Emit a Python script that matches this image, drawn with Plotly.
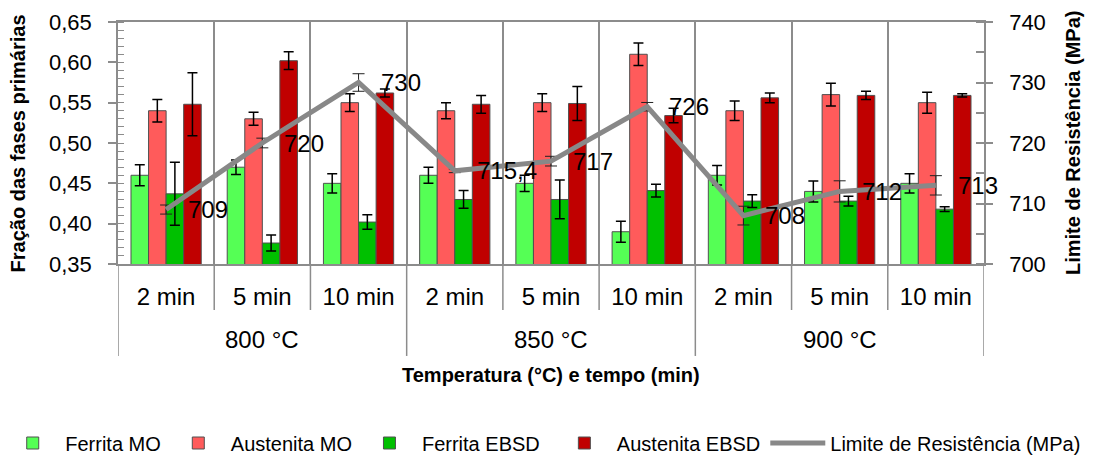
import plotly.graph_objects as go

# ---------------- data ----------------
temperaturas = ["800 °C", "850 °C", "900 °C"]
tempos = ["2 min", "5 min", "10 min"]

ferrita_mo = [0.460, 0.470, 0.450, 0.460, 0.450, 0.390, 0.460, 0.440, 0.450]
ferrita_mo_err = [0.013, 0.009, 0.012, 0.010, 0.010, 0.013, 0.012, 0.013, 0.012]
austenita_mo = [0.540, 0.530, 0.550, 0.540, 0.550, 0.610, 0.540, 0.560, 0.550]
austenita_mo_err = [0.014, 0.008, 0.011, 0.010, 0.011, 0.014, 0.012, 0.014, 0.013]
ferrita_ebsd = [0.437, 0.376, 0.402, 0.430, 0.430, 0.441, 0.428, 0.428, 0.418]
ferrita_ebsd_err = [0.039, 0.010, 0.009, 0.011, 0.024, 0.008, 0.008, 0.006, 0.003]
austenita_ebsd = [0.548, 0.602, 0.562, 0.548, 0.549, 0.534, 0.556, 0.559, 0.559]
austenita_ebsd_err = [0.039, 0.011, 0.005, 0.011, 0.021, 0.009, 0.006, 0.005, 0.002]
limite_resistencia = [709, 720, 730, 715.4, 717, 726, 708, 712, 713]
limite_resistencia_err = [0.75, 0.8, 1.45, 0.3, 0.8, 0.7, 1.55, 1.75, 1.6]

# ---------------- styling ----------------
FONT = "Liberation Sans, Arial, sans-serif"
GRID = "#8c8c8c"
n = len(temperaturas) * len(tempos)
pos = list(range(n))
ticktext = [t for _ in temperaturas for t in tempos]

fig = go.Figure()

series = [
    ("Ferrita MO", ferrita_mo, ferrita_mo_err, "#55FF55", "legend"),
    ("Austenita MO", austenita_mo, austenita_mo_err, "#FF5B5B", "legend"),
    ("Ferrita EBSD", ferrita_ebsd, ferrita_ebsd_err, "#00C000", "legend"),
    ("Austenita EBSD", austenita_ebsd, austenita_ebsd_err, "#C00000", "legend2"),
]
for name, vals, errs, col, lg in series:
    fig.add_trace(go.Bar(
        x=pos, y=vals, name=name, legend=lg,
        marker=dict(color=col, line=dict(color="#505050", width=1)),
        error_y=dict(type="data", array=errs, visible=True,
                     color="black", thickness=1.5, width=5),
    ))

fig.add_trace(go.Scatter(
    x=pos, y=limite_resistencia, name="Limite de Resistência (MPa)",
    yaxis="y2", mode="lines", legend="legend2",
    line=dict(color="#888888", width=5),
    error_y=dict(type="data", array=limite_resistencia_err, visible=True,
                 color="#222222", thickness=1, width=6),
))

annotations = []
for xi, v in zip(pos, limite_resistencia):
    annotations.append(dict(
        x=xi, y=v, xref="x", yref="y2", text=f"{v:g}".replace(".", ","),
        showarrow=False, xanchor="left", yanchor="middle", xshift=20,
        font=dict(family=FONT, size=24, color="black"),
    ))

# temperature labels and separators
k = len(tempos)
for gi, temp in enumerate(temperaturas):
    center = sum(pos[gi * k:(gi + 1) * k]) / k
    annotations.append(dict(
        x=center, y=-0.314, xref="x", yref="paper", text=temp,
        showarrow=False, xanchor="center", yanchor="middle",
        font=dict(family=FONT, size=24, color="black"),
    ))

shapes = []
for b in range(n + 1):
    xb = b - 0.5
    long_sep = (b % k == 0)
    shapes.append(dict(
        type="line", xref="x", yref="paper", x0=xb, x1=xb,
        y0=0, y1=-0.38 if long_sep else -0.19,
        line=dict(color=GRID, width=1.5),
    ))

annotations.append(dict(
    x=0.5, y=-0.459, xref="paper", yref="paper",
    text="<b>Temperatura (°C) e tempo (min)</b>", showarrow=False,
    xanchor="center", yanchor="middle",
    font=dict(family=FONT, size=20, color="black"),
))
annotations.append(dict(
    x=-0.115, y=0.5, xref="paper", yref="paper", textangle=-90,
    text="<b>Fração das fases primárias</b>", showarrow=False,
    xanchor="center", yanchor="middle",
    font=dict(family=FONT, size=20, color="black"),
))
annotations.append(dict(
    x=1.1028, y=0.5, xref="paper", yref="paper", textangle=-90,
    text="<b>Limite de Resistência (MPa)</b>", showarrow=False,
    xanchor="center", yanchor="middle",
    font=dict(family=FONT, size=20, color="black"),
))

legend_common = dict(orientation="h", yref="container", y=14 / 457,
                     yanchor="middle", font=dict(family=FONT, size=20),
                     itemwidth=55, traceorder="normal", bgcolor="rgba(0,0,0,0)")

fig.update_layout(
    width=1102, height=457,
    margin=dict(l=118, r=118, t=22, b=193, autoexpand=False),
    paper_bgcolor="white", plot_bgcolor="white",
    separators=",.",
    barmode="group", bargap=0.27, bargroupgap=0,
    font=dict(family=FONT, color="black"),
    showlegend=True,
    legend=dict(legend_common, xref="paper", x=-0.136, xanchor="left"),
    legend2=dict(legend_common, xref="paper", x=0.501, xanchor="left"),
    xaxis=dict(
        range=[-0.5, n - 0.5], tickmode="array", tickvals=pos, ticktext=ticktext,
        ticks="", showgrid=False, zeroline=False,
        showline=True, linecolor=GRID, linewidth=1.5, mirror=True,
        tickfont=dict(family=FONT, size=24), ticklabelstandoff=10,
        minor=dict(tickmode="array", tickvals=[p + 0.5 for p in pos[:-1]],
                   showgrid=True, gridcolor=GRID, gridwidth=1.5, ticks=""),
    ),
    yaxis=dict(
        range=[0.35, 0.65], tickmode="linear", tick0=0.35, dtick=0.05,
        tickformat=".2f", ticks="outside", ticklen=8, tickwidth=1.5, tickcolor=GRID,
        showline=True, linecolor=GRID, linewidth=1.5, showgrid=False, zeroline=False,
        tickfont=dict(family=FONT, size=22), ticklabelstandoff=12,
        minor=dict(dtick=0.01, ticks="inside", ticklen=6, tickwidth=1, tickcolor=GRID),
    ),
    yaxis2=dict(
        overlaying="y", side="right",
        range=[700, 740], tickmode="linear", tick0=700, dtick=10,
        ticks="outside", ticklen=7, tickwidth=1.5, tickcolor=GRID,
        showline=True, linecolor=GRID, linewidth=1.5, showgrid=False, zeroline=False,
        tickfont=dict(family=FONT, size=22), ticklabelstandoff=12,
        minor=dict(dtick=5, ticks="inside", ticklen=8, tickwidth=1.5, tickcolor=GRID),
    ),
    annotations=annotations,
    shapes=shapes,
)

fig.write_html("out.html")
